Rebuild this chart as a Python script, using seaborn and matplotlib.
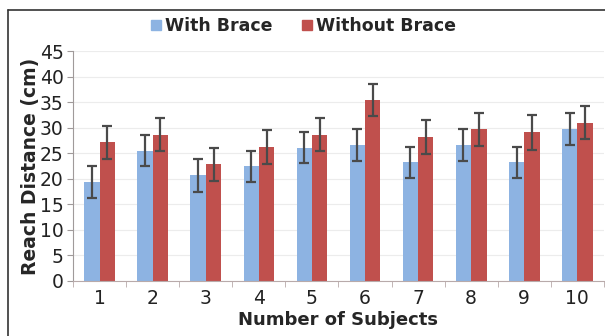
import numpy as np
import matplotlib
matplotlib.use('Agg')
import matplotlib.pyplot as plt
import seaborn as sns
import pandas as pd
from matplotlib.lines import Line2D

subjects = ['1', '2', '3', '4', '5', '6', '7', '8', '9', '10']
with_brace = [19.4, 25.5, 20.7, 22.4, 26.1, 26.6, 23.2, 26.6, 23.2, 29.7]
without_brace = [27.1, 28.6, 22.8, 26.2, 28.6, 35.4, 28.2, 29.7, 29.1, 31.0]
err_with = [3.1, 3.1, 3.2, 3.0, 3.1, 3.1, 3.1, 3.1, 3.1, 3.1]
err_without = [3.2, 3.2, 3.3, 3.3, 3.2, 3.2, 3.3, 3.2, 3.4, 3.2]
groups = ['With Brace', 'Without Brace']

df = pd.DataFrame({
    'subject': subjects * 2,
    'reach': with_brace + without_brace,
    'group': [groups[0]] * 10 + [groups[1]] * 10,
})

sns.set_style('white')
plt.rcParams['font.family'] = ['DejaVu Sans']

fig = plt.figure(figsize=(6.05, 3.36), dpi=100)
ax = fig.add_axes([0.121, 0.164, 0.877, 0.684])

colors = ['#8db3e2', '#c0504d']
sns.barplot(data=df, x='subject', y='reach', hue='group', palette=colors,
            width=0.58, gap=0, errorbar=None, saturation=1, linewidth=0, ax=ax)

# error bars from bar positions
for cont, errs in zip(ax.containers, [err_with, err_without]):
    for bar, e in zip(cont, errs):
        ax.errorbar(bar.get_x() + bar.get_width() / 2, bar.get_height(), yerr=e,
                    fmt='none', ecolor='#4a4a4a', elinewidth=1.6, capsize=3.5,
                    capthick=1.6, zorder=5)

ax.set_ylim(0, 45)
ax.set_xlim(-0.5, 9.5)
ax.set_yticks(range(0, 50, 5))
ax.yaxis.grid(True, color='#ececec', lw=0.8)
ax.set_axisbelow(True)

for s in ['top', 'right']:
    ax.spines[s].set_visible(False)
ax.spines['left'].set_color('#a09a9a')
ax.spines['bottom'].set_color('#b8aaaa')

ax.tick_params(axis='y', length=4, color='#a09a9a', labelsize=13.5,
               labelcolor='#222222', pad=3, left=True)
ax.set_xticks(np.arange(-0.5, 10, 1), minor=True)
ax.tick_params(axis='x', which='major', length=0, labelsize=13.5,
               labelcolor='#222222', pad=6)
ax.tick_params(axis='x', which='minor', length=4, color='#b8aaaa', bottom=True)

ax.set_xlabel('Number of Subjects', fontsize=13, fontweight='bold', labelpad=2)
ax.set_ylabel('Reach Distance (cm)', fontsize=13.5, fontweight='bold', labelpad=0)

handles = [Line2D([], [], marker='s', ls='', markersize=7, color=c) for c in colors]
ax.get_legend().remove()
fig.legend(handles, groups, loc='center', bbox_to_anchor=(0.5, 0.922), ncol=2,
           frameon=False, prop={'weight': 'bold', 'size': 12.5},
           handletextpad=0.1, columnspacing=1.6, handlelength=0.8)

# outer frame (left and top edges visible)
fig.add_artist(Line2D([8 / 605, 8 / 605], [0, 1 - 10 / 336], transform=fig.transFigure,
                      color='#333333', lw=1.2))
fig.add_artist(Line2D([8 / 605, 1], [1 - 10 / 336, 1 - 10 / 336], transform=fig.transFigure,
                      color='#333333', lw=1.2))

fig.savefig('out.png', dpi=100)
